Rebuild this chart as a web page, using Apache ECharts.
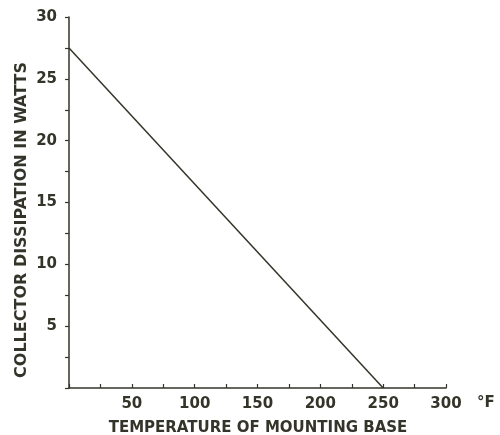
<!DOCTYPE html>
<html><head><meta charset="utf-8">
<script src="https://cdn.jsdelivr.net/npm/echarts@6/dist/echarts.min.js"></script>
<style>html,body{margin:0;padding:0;background:#fff}#c{width:500px;height:435px}</style>
</head><body><div id="c"></div>
<script>
const temperatureF = [0, 250];
const dissipationW = [27.5, 0];
const xLabelValues = [50, 100, 150, 200, 250, 300];
const yLabelValues = [5, 10, 15, 20, 25, 30];
const xTitle = 'TEMPERATURE OF MOUNTING BASE';
const yTitle = 'COLLECTOR DISSIPATION IN WATTS';
const xUnit = '°F';

const ink = '#34342a';
const font = 'DejaVu Sans';
const chart = echarts.init(document.getElementById('c'));
chart.setOption({
  animation: false,
  backgroundColor: '#fff',
  graphic: [
    {
      type: 'text', x: 258, y: 428,
      style: {text: xTitle, fill: ink, font: 'bold 15px "DejaVu Sans"', textAlign: 'center', textVerticalAlign: 'middle'}
    },
    {
      type: 'text', x: 22, y: 220, rotation: Math.PI / 2,
      style: {text: yTitle, fill: ink, font: 'bold 16px "DejaVu Sans"', textAlign: 'center', textVerticalAlign: 'middle'}
    }
  ],
  grid: {left: 69, right: 54, top: 17, bottom: 47},
  xAxis: {
    type: 'value', min: 0, max: 300, interval: 25,
    name: xUnit, nameLocation: 'end', nameGap: 31,
    nameTextStyle: {color: ink, fontFamily: font, fontWeight: 'bold', fontSize: 15, align: 'left', verticalAlign: 'top', padding: [8, 0, 0, 0]},
    axisLine: {show: true, lineStyle: {color: ink, width: 1.5}},
    axisTick: {show: true, inside: true, length: 4, lineStyle: {color: ink, width: 1.2}},
    splitLine: {show: false},
    axisLabel: {
      color: ink, fontFamily: font, fontWeight: 'bold', fontSize: 15, margin: 9,
      formatter: v => xLabelValues.includes(v) ? String(v) : ''
    }
  },
  yAxis: {
    type: 'value', min: 0, max: 30, interval: 2.5,
    axisLine: {show: true, lineStyle: {color: ink, width: 1.5}},
    axisTick: {show: true, length: 4, lineStyle: {color: ink, width: 1.2}},
    splitLine: {show: false},
    axisLabel: {
      color: ink, fontFamily: font, fontWeight: 'bold', fontSize: 15, margin: 12,
      formatter: v => yLabelValues.includes(v) ? String(v) : ''
    }
  },
  series: [{
    type: 'line',
    data: temperatureF.map((t, i) => [t, dissipationW[i]]),
    symbol: 'none',
    lineStyle: {color: ink, width: 1.5}
  }]
});
</script></body></html>
